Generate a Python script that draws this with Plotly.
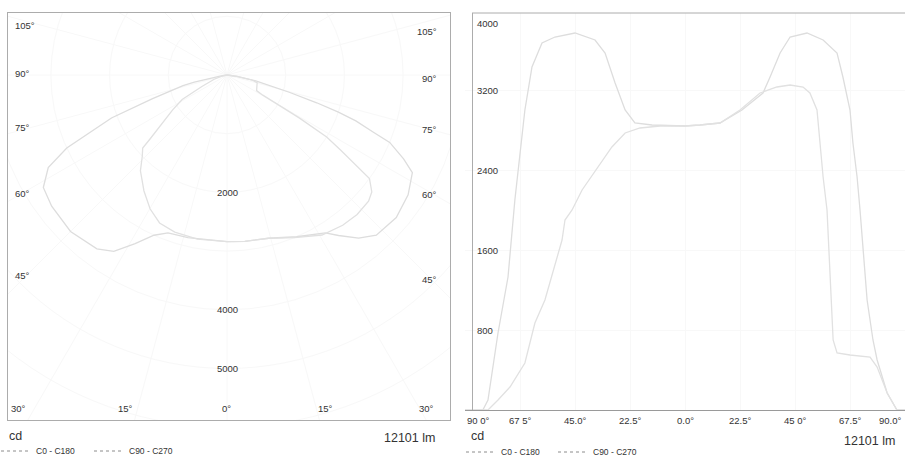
import numpy as np
import plotly.graph_objects as go

# ---------------- data ----------------
SERIES_NAMES = ["C0 - C180", "C90 - C270"]

ANGLES_C0_C180 = [-90, -82.7, -80.6, -77.7, -76.5, -72.4, -69.6, -65.5, -62.6, -58.5,
                  -53.2, -45.0, -36.8, -32.7, -28.6, -24.5, -20.5, -13.5, 0, 6.1,
                  14.3, 23.3, 31.9, 34.8, 38.9, 43.0, 49.9, 56.5, 62.2, 64.6,
                  67.5, 68.7, 70.4, 71.6, 72.8, 74.5, 76.9, 78.6, 82.7, 86.7, 90]
CD_C0_C180 = [0, 0, 100, 570, 770, 1330, 2100, 3000, 3430, 3670,
              3730, 3770, 3700, 3570, 3270, 3000, 2870, 2850, 2840, 2850,
              2870, 3000, 3170, 3330, 3570, 3730, 3770, 3700, 3570, 3330,
              3000, 2670, 2330, 2000, 1600, 1100, 700, 500, 170, 0, 0]

ANGLES_C90_C270 = [-90, -80.6, -76.5, -71.6, -65.5, -61.4, -57.3, -50.3, -49.1, -46.2,
                   -42.1, -35.6, -29.9, -24.5, -18.4, -10.2, 0, 6.1, 14.3, 22.5,
                   30.7, 37.6, 43.0, 48.3, 51.1, 54.0, 55.2, 56.5, 58.1, 59.3,
                   60.6, 62.2, 67.5, 75.7, 78.6, 82.7, 86.7, 90]
CD_C90_C270 = [0, 0, 100, 230, 470, 870, 1100, 1700, 1900, 2000,
               2200, 2430, 2630, 2770, 2820, 2840, 2840, 2850, 2870, 3000,
               3170, 3230, 3250, 3230, 3170, 3000, 2670, 2330, 2000, 1430,
               700, 570, 550, 530, 430, 170, 0, 0]

LINEAR_X_TICKS = [-90, -67.5, -45, -22.5, 0, 22.5, 45, 67.5, 90]
LINEAR_X_TICK_TEXT = ["90 0°", "67 5°", "45.0°", "22.5°", "0.0°", "22.5°", "45 0°", "67.5°", "90.0°"]
LINEAR_Y_TICKS = [800, 1600, 2400, 3200, 4000]
LINEAR_Y_TICK_TEXT = ["800", "1600", "2400", "3200", "4000"]

POLAR_RADIAL_TICKS = [2000, 4000, 5000]
POLAR_GRID_RINGS = [1000, 2000, 3000, 4000, 5000, 6000, 7000]
POLAR_SIDE_LABELS = ["105°", "90°", "75°", "60°", "45°"]
POLAR_BOTTOM_LABELS = ["30°", "15°", "0°", "15°", "30°"]

UNIT_LABEL = "cd"
FLUX_LABEL = "12101 lm"

# ---------------- layout constants (pixels) ----------------
W, H = 905, 459
FONT = "Liberation Sans, Arial, sans-serif"
TXT = "#333333"
LINE_COLORS = ["#dddddd", "#e1e1e1"]
LEGEND_COLOR = "#8c8c8c"
FRAME = "#acacac"
GRID = "#f8f8f8"


def px(x):
    return x / W


def py(y):
    return 1 - y / H


# polar panel geometry
P_LEFT, P_RIGHT, P_TOP, P_BOTTOM = 8, 450, 13, 420
P_CX, P_CY = 227, 75
P_SCALE = 0.0587  # px per cd
p_xrange = [(P_LEFT - P_CX) / P_SCALE, (P_RIGHT - P_CX) / P_SCALE]
p_yrange = [-(P_BOTTOM - P_CY) / P_SCALE, (P_CY - P_TOP) / P_SCALE]

# linear panel geometry
L_LEFT, L_AXIS, L_RIGHT, L_TOP, L_BOTTOM = 465, 472, 905, 13, 410
L_CD_PER_PX = 10.0
l_yrange = [0, (L_BOTTOM - L_TOP) * L_CD_PER_PX]

# label pixel positions (layout)
SIDE_LABEL_Y_LEFT = [26, 73, 128, 193, 275]
SIDE_LABEL_Y_RIGHT = [31, 78, 129, 194, 279]
BOTTOM_LABEL_X = [18, 125, 226, 325, 426]
BOTTOM_LABEL_Y = 408

fig = go.Figure()

series = [(ANGLES_C0_C180, CD_C0_C180), (ANGLES_C90_C270, CD_C90_C270)]

# polar diagram drawn on equal-scaled cartesian axes
for (ang, cd), name, col in zip(series, SERIES_NAMES, LINE_COLORS):
    a = np.radians(np.array(ang, dtype=float))
    r = np.array(cd, dtype=float)
    fig.add_trace(go.Scatter(x=r * np.sin(a), y=-r * np.cos(a), mode="lines",
                             line=dict(color=col, width=1.3), name=name,
                             showlegend=False, xaxis="x", yaxis="y",
                             hoverinfo="skip"))

# linear diagram
for (ang, cd), name, col in zip(series, SERIES_NAMES, LINE_COLORS):
    fig.add_trace(go.Scatter(x=ang, y=cd, mode="lines",
                             line=dict(color=col, width=1.3), name=name,
                             showlegend=False, xaxis="x2", yaxis="y2",
                             hoverinfo="skip"))

# legend entries (one legend per panel)
for lg, xa, ya in [("legend", "x", "y"), ("legend2", "x2", "y2")]:
    for name in SERIES_NAMES:
        fig.add_trace(go.Scatter(x=[None], y=[None], mode="lines", name=name,
                                 line=dict(color=LEGEND_COLOR, width=1, dash="dot"),
                                 legend=lg, xaxis=xa, yaxis=ya, showlegend=True))

shapes = []
# polar grid rings
for rr in POLAR_GRID_RINGS:
    shapes.append(dict(type="circle", xref="x", yref="y", x0=-rr, x1=rr, y0=-rr, y1=rr,
                       line=dict(color=GRID, width=1), layer="below"))
# polar spokes every 15 deg
for deg in range(-165, 180, 15):
    t = np.radians(deg)
    R = 9000
    shapes.append(dict(type="line", xref="x", yref="y", x0=0, y0=0,
                       x1=R * np.sin(t), y1=-R * np.cos(t),
                       line=dict(color=GRID, width=1), layer="below"))
# top frame of linear panel
shapes.append(dict(type="line", xref="paper", yref="paper", x0=px(L_AXIS), x1=1,
                   y0=py(L_TOP), y1=py(L_TOP), line=dict(color=FRAME, width=1)))
fig.update_layout(shapes=shapes)

ann = []
f9 = dict(family=FONT, size=9.5, color=TXT)
# polar radial labels
for v in POLAR_RADIAL_TICKS:
    ann.append(dict(xref="x", yref="y", x=0, y=-v, text=str(v), showarrow=False,
                    font=f9, xanchor="center", yanchor="middle"))
# polar angle labels
for t, yl, yr in zip(POLAR_SIDE_LABELS, SIDE_LABEL_Y_LEFT, SIDE_LABEL_Y_RIGHT):
    ann.append(dict(xref="paper", yref="paper", x=px(13), y=py(yl), text=t,
                    showarrow=False, font=f9, xanchor="left", yanchor="middle"))
    ann.append(dict(xref="paper", yref="paper", x=px(439), y=py(yr), text=t,
                    showarrow=False, font=f9, xanchor="right", yanchor="middle"))
for t, xb in zip(POLAR_BOTTOM_LABELS, BOTTOM_LABEL_X):
    ann.append(dict(xref="paper", yref="paper", x=px(xb), y=py(BOTTOM_LABEL_Y), text=t,
                    showarrow=False, font=f9, xanchor="center", yanchor="middle"))
# linear x tick labels
last = len(LINEAR_X_TICKS) - 1
for i, (v, t) in enumerate(zip(LINEAR_X_TICKS, LINEAR_X_TICK_TEXT)):
    xa = "left" if i == 0 else ("right" if i == last else "center")
    shift = -2 if i == last else 0
    ann.append(dict(xref="x2", yref="paper", x=v, y=py(420), text=t, showarrow=False,
                    font=f9, xanchor=xa, yanchor="middle", xshift=shift))
# linear y tick labels (inside)
for v, t in zip(LINEAR_Y_TICKS, LINEAR_Y_TICK_TEXT):
    if v >= l_yrange[1]:
        ann.append(dict(xref="paper", yref="y2", x=px(475), y=l_yrange[1], text=t,
                        showarrow=False, font=f9, xanchor="left", yanchor="top", yshift=-3))
    else:
        ann.append(dict(xref="paper", yref="y2", x=px(475), y=v, text=t,
                        showarrow=False, font=f9, xanchor="left", yanchor="middle"))
# unit / flux labels
f12 = dict(family=FONT, size=12.5, color=TXT)
for xl, xr, yf in [(7, 437, 438), (469, 897, 441)]:
    ann.append(dict(xref="paper", yref="paper", x=px(xl), y=py(436), text=UNIT_LABEL,
                    showarrow=False, font=f12, xanchor="left", yanchor="middle"))
    ann.append(dict(xref="paper", yref="paper", x=px(xr), y=py(yf), text=FLUX_LABEL,
                    showarrow=False, font=f12, xanchor="right", yanchor="middle"))
fig.update_layout(annotations=ann)

legend_font = dict(family=FONT, size=8.5, color=TXT)
fig.update_layout(
    width=W, height=H, margin=dict(l=0, r=0, t=0, b=0, pad=0, autoexpand=False),
    paper_bgcolor="white", plot_bgcolor="white",
    xaxis=dict(domain=[px(P_LEFT), px(P_RIGHT)], range=p_xrange, anchor="y",
               showline=True, mirror=True, linecolor=FRAME, linewidth=1,
               showgrid=False, zeroline=False, showticklabels=False, ticks=""),
    yaxis=dict(domain=[py(P_BOTTOM), py(P_TOP)], range=p_yrange, anchor="x",
               showline=True, mirror=True, linecolor=FRAME, linewidth=1,
               showgrid=False, zeroline=False, showticklabels=False, ticks=""),
    xaxis2=dict(domain=[px(L_LEFT), 1], range=[-90, 90], anchor="y2",
                showline=True, linecolor="#9a9a9a", linewidth=1,
                tickvals=LINEAR_X_TICKS, showgrid=True, gridcolor=GRID,
                zeroline=False, showticklabels=False, ticks=""),
    yaxis2=dict(domain=[py(L_BOTTOM), py(L_TOP)], range=l_yrange, anchor="free",
                position=px(L_AXIS), showline=True, linecolor=FRAME, linewidth=1,
                tickvals=LINEAR_Y_TICKS, showgrid=True, gridcolor=GRID,
                zeroline=False, showticklabels=False, ticks=""),
    legend=dict(x=px(-4), y=py(451), xanchor="left", yanchor="middle",
                orientation="h", font=legend_font, entrywidth=48,
                entrywidthmode="pixels",
                bgcolor="rgba(0,0,0,0)", itemwidth=30, tracegroupgap=0),
    legend2=dict(x=px(461), y=py(452), xanchor="left", yanchor="middle",
                 orientation="h", font=legend_font, entrywidth=47,
                 entrywidthmode="pixels",
                 bgcolor="rgba(0,0,0,0)", itemwidth=30, tracegroupgap=0),
    showlegend=True,
    hovermode=False,
)

fig.write_html(
    "out.html",
    config={"displayModeBar": False, "staticPlot": True},
    post_script="document.body.style.margin='0';document.body.style.overflow='hidden';",
)
